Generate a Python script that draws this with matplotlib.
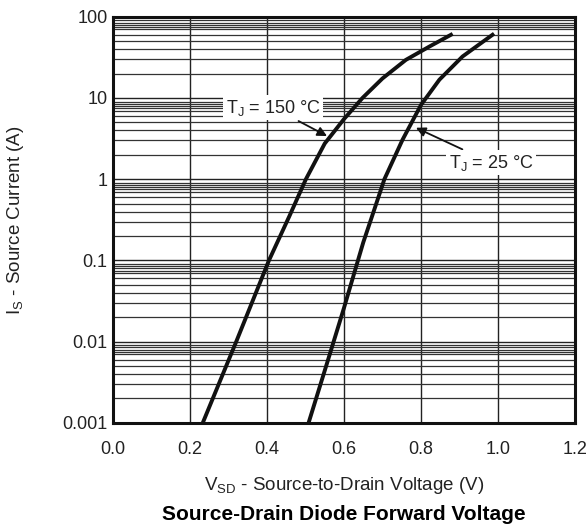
import numpy as np
import matplotlib
matplotlib.use('Agg')
from matplotlib import pyplot as plt
from matplotlib.ticker import LogLocator, FixedLocator, NullFormatter

plt.rcParams['font.family'] = ['Liberation Sans', 'DejaVu Sans']
plt.rcParams['mathtext.fontset'] = 'custom'
plt.rcParams['mathtext.rm'] = 'Liberation Sans'
plt.rcParams['mathtext.it'] = 'Liberation Sans:italic'
plt.rcParams['mathtext.bf'] = 'Liberation Sans:bold'
plt.rcParams['mathtext.default'] = 'regular'

# 曲线数据
v_150 = [0.233, 0.32, 0.405, 0.458, 0.501, 0.55, 0.60, 0.648, 0.70, 0.761, 0.822, 0.878]
i_150 = [0.001, 0.01, 0.1, 0.35, 1.0, 2.75, 5.5, 10.0, 17.4, 29.5, 43, 60]

v_25 = [0.508, 0.55, 0.60, 0.65, 0.68, 0.705, 0.752, 0.80, 0.848, 0.908, 0.986]
i_25 = [0.001, 0.0044, 0.026, 0.166, 0.44, 1.0, 3.05, 8.2, 16.8, 32.4, 60]

x_ticks = [0.0, 0.2, 0.4, 0.6, 0.8, 1.0, 1.2]
y_ticks = [0.001, 0.01, 0.1, 1, 10, 100]
y_labels = ['0.001', '0.01', '0.1', '1', '10', '100']

fig = plt.figure(figsize=(5.86, 5.24), dpi=100)
ax = fig.add_axes([0.193, 0.193, 0.788, 0.775])

ax.set_yscale('log')
ax.set_xlim(0, 1.2)
ax.set_ylim(0.001, 100)

# 网格
ax.xaxis.set_major_locator(FixedLocator(x_ticks))
ax.yaxis.set_major_locator(FixedLocator(y_ticks))
ax.yaxis.set_minor_locator(LogLocator(base=10, subs=[2, 3, 4, 5, 6, 7, 7.5, 8, 8.5, 9]))
ax.yaxis.set_minor_formatter(NullFormatter())
ax.set_xticklabels(['%.1f' % t for t in x_ticks])
ax.set_yticklabels(y_labels)
ax.grid(True, which='major', color='#222222', linewidth=1.0)
ax.grid(True, which='minor', axis='y', color='#333333', linewidth=0.9)
ax.tick_params(which='both', length=0, labelsize=13, colors='#222222')
ax.tick_params(axis='x', pad=13)
ax.tick_params(axis='y', pad=4)
for s in ax.spines.values():
    s.set_linewidth(2.2)
    s.set_color('#111111')

# 绘制曲线
ax.plot(v_150, i_150, color='#111111', linewidth=2.8, zorder=3, solid_joinstyle='round')
ax.plot(v_25, i_25, color='#111111', linewidth=2.8, zorder=3, solid_joinstyle='round')

# 标注
arrow = dict(arrowstyle='-|>', color='#111111', lw=1.3, shrinkA=1, shrinkB=0,
             mutation_scale=14)
ax.annotate('T$_J$ = 150 °C', xy=(0.556, 3.4), xytext=(0.416, 7.6),
            fontsize=13, ha='center', va='center', color='#222222',
            bbox=dict(boxstyle='square,pad=0.15', fc='white', ec='none'),
            arrowprops=arrow)
ax.annotate('T$_J$ = 25 °C', xy=(0.787, 4.3), xytext=(0.982, 1.6),
            fontsize=13, ha='center', va='center', color='#222222',
            bbox=dict(boxstyle='square,pad=0.15', fc='white', ec='none'),
            arrowprops=arrow)

fig.text(0.587, 1 - 486 / 524, 'V$_{SD}$ - Source-to-Drain Voltage (V)', fontsize=13.5,
         ha='center', va='center', color='#222222')
fig.text(16 / 586, 0.5 * (0.193 + 0.968), 'I$_S$ - Source Current (A)', fontsize=13.5,
         rotation=90, ha='center', va='center', color='#222222')
fig.text(0.587, 1 - 515 / 524, 'Source-Drain Diode Forward Voltage', fontsize=15,
         fontweight='bold', ha='center', va='center')

fig.savefig('out.png', dpi=100)
